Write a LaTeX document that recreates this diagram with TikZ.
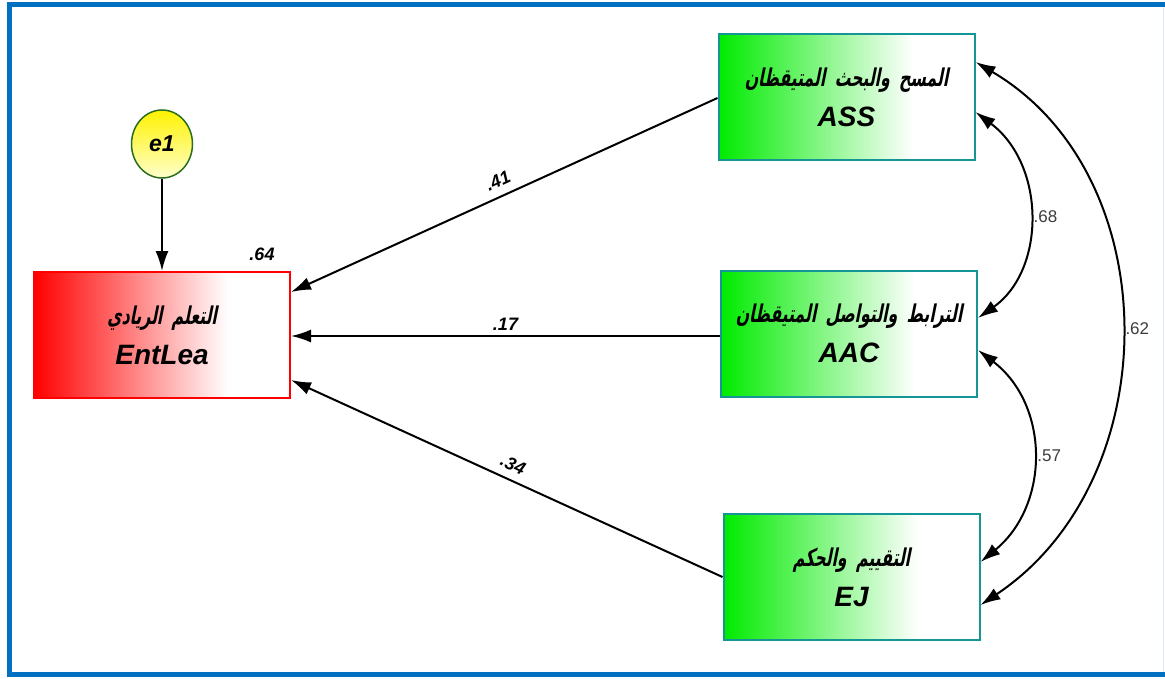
\documentclass[tikz,border=0pt]{standalone}
\usepackage{fontspec}
\setmainfont{Liberation Sans}
\newfontfamily\arabicfont[Script=Arabic, UprightFont=* Bold, FakeSlant=0.2, FakeStretch=0.64]{DejaVu Sans}
\TeXXeTstate=1
\usepackage{xcolor}
\usetikzlibrary{arrows.meta, shapes.geometric}

\definecolor{framec}{RGB}{0,112,192}
\definecolor{ngreen}{RGB}{0,235,0}
\definecolor{nred}{RGB}{255,0,0}
\definecolor{tealc}{RGB}{20,150,150}
\definecolor{egreen}{RGB}{40,110,30}
\definecolor{corrc}{RGB}{60,60,60}
\pgfdeclarehorizontalshading{greenfade}{100bp}{color(0bp)=(ngreen); color(25bp)=(ngreen); color(63bp)=(white); color(100bp)=(white)}
\pgfdeclarehorizontalshading{redfade}{100bp}{color(0bp)=(nred); color(25bp)=(nred); color(63bp)=(white); color(100bp)=(white)}

\newcommand{\ar}[1]{{\normalfont\arabicfont\fontsize{24.5}{26}\selectfont\beginR #1\endR}}

\begin{document}
\begin{tikzpicture}[x=1pt, y=-1pt,
    obsbox/.style={draw=tealc, line width=2pt, shading=greenfade, minimum width=256pt, minimum height=126pt,
        text width=250pt, align=center, inner sep=0pt, font=\bfseries\itshape\fontsize{28}{40}\selectfont},
    outbox/.style={obsbox, draw=nred, shading=redfade},
    errnode/.style={ellipse, draw=egreen, line width=1.5pt, top color=yellow!90!orange, bottom color=yellow!20,
        minimum width=61pt, minimum height=68pt, inner sep=0pt, font=\bfseries\itshape\fontsize{23}{26}\selectfont},
    patharr/.style={line width=2pt, -{Latex[length=20pt, width=13pt]}},
    cov/.style={line width=2pt, {Latex[length=20pt, width=13pt]}-{Latex[length=20pt, width=13pt]}},
    coef/.style={font=\bfseries\itshape\fontsize{18}{20}\selectfont, inner sep=2pt},
    corr/.style={font=\fontsize{17}{20}\selectfont, text=corrc, inner sep=2pt}]
    \useasboundingbox (0,0) rectangle (1165,678);

    % frame
    \draw[framec, line width=5pt] (1165,4.5) -- (9.5,4.5) -- (9.5,674.5) -- (1165,674.5);
    \draw[framec!15, line width=1pt] (1163,7) -- (1163,672);

    % boxes
    \node[obsbox] (ass) at (846.5,97) {\ar{المسح والبحث المتيقظان}\\ASS};
    \node[obsbox] (aac) at (849,333.5) {\ar{الترابط والتواصل المتيقظان}\\AAC};
    \node[obsbox] (ej) at (851.5,577) {\ar{التقييم والحكم}\\EJ};
    \node[outbox] (ent) at (162,335) {\ar{التعلم الريادي}\\EntLea};
    \node[errnode] (e1) at (162,144) {e1};
    \node[coef] (r2) at (262,254) {.64};

    % paths
    \draw[patharr] (e1) -- (ent);
    \draw[patharr] (ass.west |- 0,98) -- node[coef, sloped, above=6pt] {.41} (ent.east |- 0,292);
    \draw[patharr] (aac.west |- 0,336) -- node[coef, above=3pt] {.17} (ent.east |- 0,336);
    \draw[patharr] (ej.west |- 0,577) -- node[coef, sloped, above=6pt] {.34} (ent.east |- 0,380);

    % correlations
    \draw[cov] (ass.east |- 0,112) .. controls (1046,165) and (1046,270) .. node[corr, right=2pt, pos=0.5] {.68} (aac.east |- 0,318);
    \draw[cov] (aac.east |- 0,350) .. controls (1050,405) and (1050,505) .. node[corr, right=2pt, pos=0.5] {.57} (ej.east |- 0,562);
    \draw[cov] (ass.east |- 0,62) .. controls (1168,175) and (1168,480) .. node[corr, right=2pt, pos=0.5] {.62} (ej.east |- 0,605);
\end{tikzpicture}
\end{document}
